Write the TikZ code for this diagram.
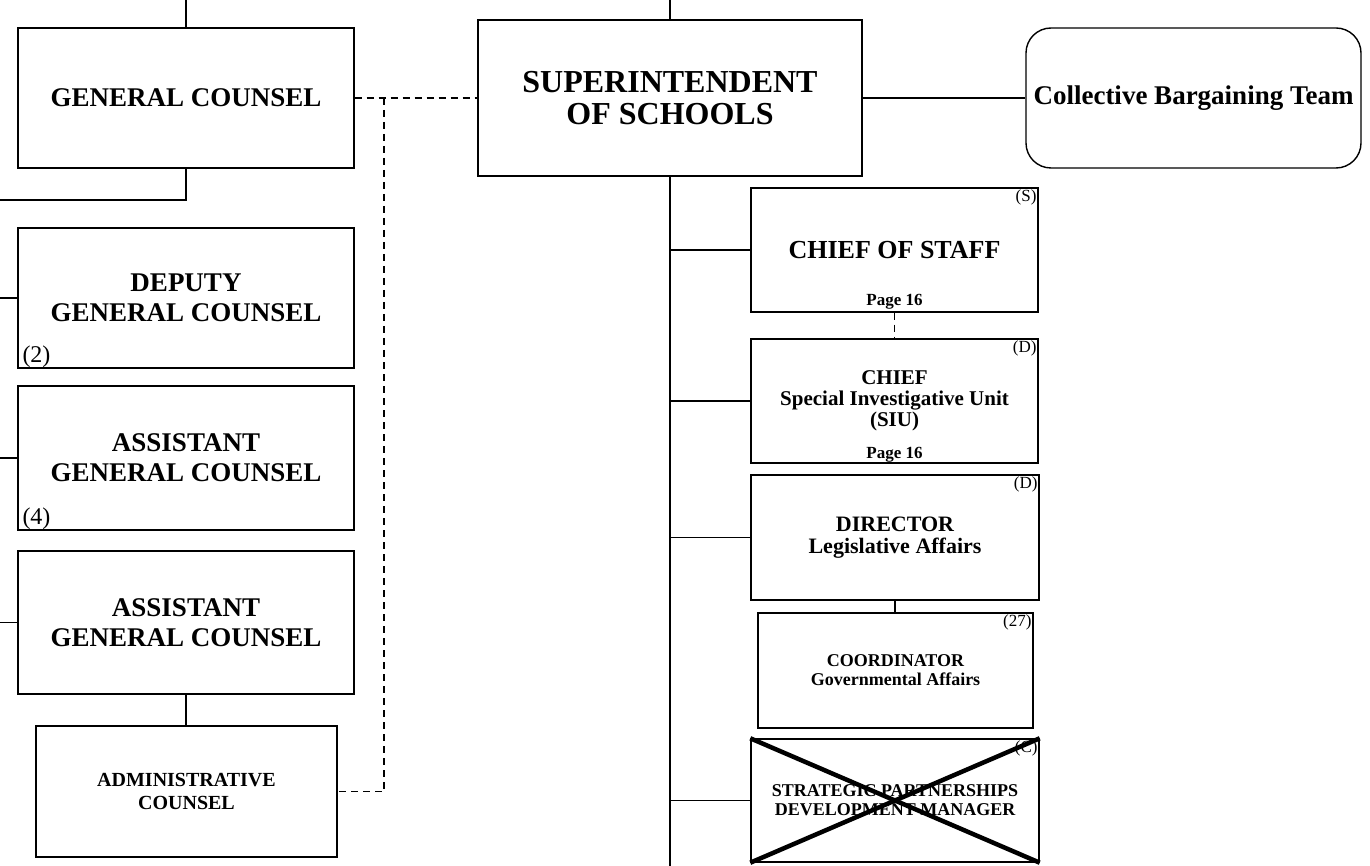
\documentclass[tikz,border=0pt]{standalone}
\usepackage{fontspec}
\setmainfont{Liberation Serif}
\usepackage{tikz}

\begin{document}
\begin{tikzpicture}[x = 1pt, y = -1pt,
	box/.style = {draw, line width = 1.4pt, inner sep = 0pt, align = center},
	title/.style = {font = \fontsize{32}{32}\selectfont\bfseries},
	head/.style = {font = \fontsize{27}{30}\selectfont\bfseries},
	mid/.style = {font = \fontsize{22}{22}\selectfont\bfseries},
	sub/.style = {font = \fontsize{21}{21}\selectfont\bfseries},
	minor/.style = {font = \fontsize{18}{19}\selectfont\bfseries},
	page/.style = {inner sep = 0pt, font = \fontsize{17}{17}\selectfont\bfseries},
	tag/.style = {inner sep = 2pt, font = \fontsize{17}{17}\selectfont},
	count/.style = {inner xsep = 5pt, inner ysep = 1pt, font = \fontsize{24}{24}\selectfont},
	link/.style = {line width = 1.3pt},
	dashlink/.style = {line width = 1.3pt, dash pattern = on 7pt off 5pt},
	cross/.style = {line width = 4.5pt}]
	\useasboundingbox (0, 0) rectangle (1370, 866);
	
	\node[box, head, minimum width = 336, minimum height = 140] (gc) at (186, 98) {GENERAL COUNSEL};
	\node[box, head, minimum width = 336, minimum height = 140] (dgc) at (186, 298) {DEPUTY\\GENERAL COUNSEL};
	\node[box, head, minimum width = 336, minimum height = 144] (agcfour) at (186, 458) {ASSISTANT\\GENERAL COUNSEL};
	\node[box, head, minimum width = 336, minimum height = 143] (agc) at (186, 622.5) {ASSISTANT\\GENERAL COUNSEL};
	\node[box, font = \fontsize{20}{23}\selectfont\bfseries, minimum width = 301, minimum height = 131] (admin) at (186.5, 791.5) {ADMINISTRATIVE\\COUNSEL};
	
	\node[count, anchor = south west] (dgcnum) at (dgc.south west) {(2)};
	\node[count, anchor = south west] (agcnum) at (agcfour.south west) {(4)};
	
	\node[box, title, minimum width = 384, minimum height = 156] (super) at (670, 98) {SUPERINTENDENT\\OF SCHOOLS};
	\node[box, head, rounded corners = 25pt, minimum width = 335, minimum height = 140] (cbt) at (1193.5, 98) {Collective Bargaining Team};
	
	\node[box, font = \fontsize{26}{28}\selectfont\bfseries, minimum width = 287, minimum height = 124] (cos) at (894.5, 250) {CHIEF OF STAFF};
	\node[box, sub, minimum width = 287, minimum height = 124] (siu) at (894.5, 401) {CHIEF\\Special Investigative Unit\\(SIU)};
	\node[box, mid, minimum width = 288, minimum height = 125] (dir) at (895, 537.5) {DIRECTOR\\Legislative Affairs};
	\node[box, minor, minimum width = 275, minimum height = 115] (coord) at (895.5, 670.5) {COORDINATOR\\Governmental Affairs};
	\node[box, minor, minimum width = 288, minimum height = 123] (spdm) at (895, 800.5) {STRATEGIC PARTNERSHIPS\\DEVELOPMENT MANAGER};
	
	\node[tag, anchor = north east] (costag) at (cos.north east) {(S)};
	\node[tag, anchor = north east] (siutag) at (siu.north east) {(D)};
	\node[tag, anchor = north east] (dirtag) at (dir.north east) {(D)};
	\node[tag, anchor = north east] (coordtag) at (coord.north east) {(27)};
	\node[tag, anchor = north east] (spdmtag) at (spdm.north east) {(C)};
	
	\node[page, anchor = base, yshift = 7pt] (cospage) at (cos.south) {Page 16};
	\node[page, anchor = base, yshift = 5pt] (siupage) at (siu.south) {Page 16};
	
	\draw[cross] (spdm.north west) -- (spdm.south east);
	\draw[cross] (spdm.south west) -- (spdm.north east);
	
	\coordinate (gctop) at (186, 0);
	\coordinate (suptop) at (670, 0);
	\coordinate (gcleft) at (0, 200);
	\coordinate (spineend) at (670, 866);
	\coordinate (gcjoin) at (384, 98);
	
	\draw[link] (gctop) -- (gc.north);
	\draw[link] (gc.south) |- (gcleft);
	\draw[link] (dgc.west) -- (dgc.west -| gcleft);
	\draw[link] (agcfour.west) -- (agcfour.west -| gcleft);
	\draw[link] (agc.west) -- (agc.west -| gcleft);
	\draw[link] (agc.south) -- (agc.south |- admin.north);
	
	\draw[link] (suptop) -- (super.north);
	\draw[link] (super.south) -- (spineend);
	\draw[link] (super.east) -- (cbt.west);
	\draw[link] (cos.west -| super.south) -- (cos.west);
	\draw[link] (siu.west -| super.south) -- (siu.west);
	\draw[link] (dir.west -| super.south) -- (dir.west);
	\draw[link] (spdm.west -| super.south) -- (spdm.west);
	\draw[link] (dir.south) -- (dir.south |- coord.north);
	
	\draw[dashlink] (gc.east) -- (super.west);
	\draw[dashlink] (gcjoin) |- (admin.east);
	\draw[dashlink] (cos.south) -- (siu.north);
\end{tikzpicture}
\end{document}
